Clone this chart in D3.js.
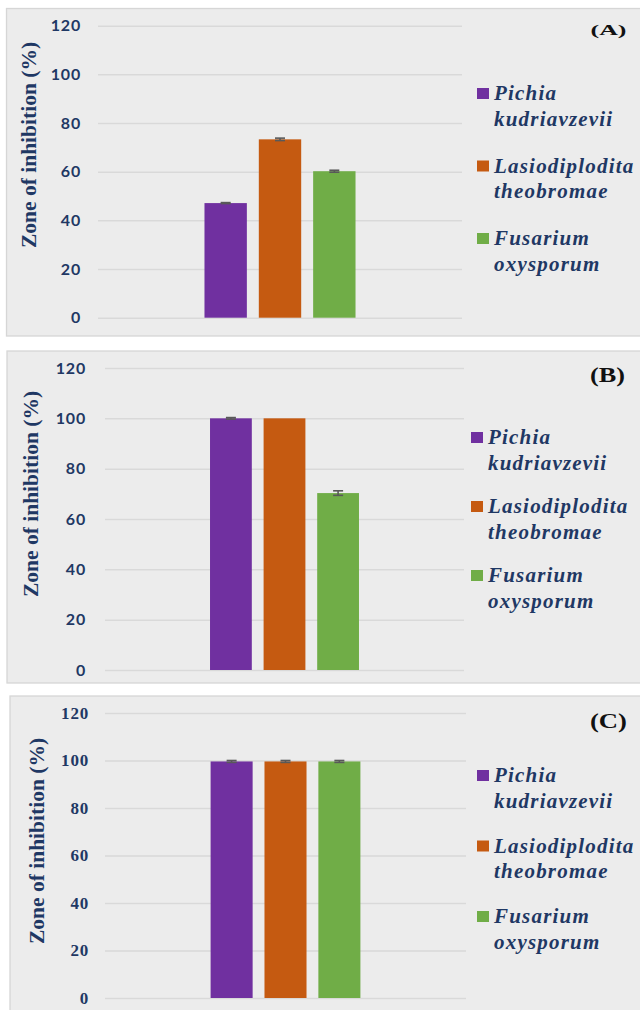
<!DOCTYPE html>
<html>
<head>
<meta charset="utf-8">
<script src="https://cdn.jsdelivr.net/npm/d3@7"></script>
<style>
  body { margin: 0; background: #fff; }
  svg { display: block; }
</style>
</head>
<body>
<svg id="chart" width="640" height="1010"></svg>
<script>
// data
const seriesNames = ['Pichia kudriavzevii', 'Lasiodiplodita theobromae', 'Fusarium oxysporum'];
const seriesColors = ['#7030a0', '#c55a11', '#70ad47'];
const panelLabels = ['(A)', '(B)', '(C)'];
const valuesA = [47.1, 73.3, 60.2];
const errorsA = [0.2, 0.5, 0.4];
const valuesB = [100, 100, 70.3];
const errorsB = [0.3, 0, 0.9];
const valuesC = [99.6, 99.6, 99.6];
const errorsC = [0.4, 0.4, 0.4];
const yTicks = [0, 20, 40, 60, 80, 100, 120];
const yTitle = 'Zone of inhibition (%)';

const navy = '#1f3864';
const sans = 'Lato, "Liberation Sans", sans-serif';
const serif = '"Liberation Serif", "Times New Roman", serif';

// layout of the three stacked panels
const panels = [
  {
    label: panelLabels[0], values: valuesA, errors: errorsA,
    box: { x: 6.5, y: 8.5, w: 650, h: 327.5 },
    plot: { x0: 98, x1: 462, y0: 317.7, y1: 25.7 },
    tickEnd: 81, tickFont: sans, tickSize: 16,
    titleX: 30.6, titleY: 145,
    legendX: 477, legendY: 100, legendStep: 72.5,
    labelX: 590.5, labelY: 35.3, labelSize: 14, labelW: 36,
  },
  {
    label: panelLabels[1], values: valuesB, errors: errorsB,
    box: { x: 7, y: 351, w: 650, h: 332 },
    plot: { x0: 105, x1: 464, y0: 670, y1: 368 },
    tickEnd: 86, tickFont: sans, tickSize: 16,
    titleX: 32.6, titleY: 494,
    legendX: 471, legendY: 444, legendStep: 69,
    labelX: 590, labelY: 381.6, labelSize: 20, labelW: 35,
  },
  {
    label: panelLabels[2], values: valuesC, errors: errorsC,
    box: { x: 10, y: 696, w: 650, h: 340 },
    plot: { x0: 105, x1: 466, y0: 998, y1: 713 },
    tickEnd: 89, tickFont: serif, tickSize: 17,
    titleX: 38.5, titleY: 841,
    legendX: 477, legendY: 782, legendStep: 70.5,
    labelX: 590, labelY: 728, labelSize: 21.5, labelW: 37,
  },
];

const svg = d3.select('#chart');

panels.forEach(p => {
  const g = svg.append('g');

  g.append('rect')
    .attr('x', p.box.x)
    .attr('y', p.box.y)
    .attr('width', p.box.w)
    .attr('height', p.box.h)
    .attr('fill', '#ececec')
    .attr('stroke', '#d6d6d6')
    .attr('stroke-width', 1.3);

  const y = d3.scaleLinear().domain([0, 120]).range([p.plot.y0, p.plot.y1]);
  const xGroup = d3.scaleBand().domain(['all']).range([p.plot.x0, p.plot.x1]).paddingOuter(0.705);
  const xSeries = d3.scaleBand().domain(d3.range(seriesNames.length))
    .range([0, xGroup.bandwidth()]).paddingInner(0.22);

  // gridlines + tick labels via axis
  const axis = g.append('g')
    .attr('transform', `translate(${p.plot.x0},0)`)
    .call(d3.axisLeft(y).tickValues(yTicks).tickSize(-(p.plot.x1 - p.plot.x0)).tickPadding(p.plot.x0 - p.tickEnd));
  axis.select('.domain').remove();
  axis.selectAll('.tick line')
    .attr('stroke', '#d9d9d9')
    .attr('stroke-width', 1.5);
  axis.selectAll('.tick text')
    .attr('fill', navy)
    .attr('font-family', p.tickFont)
    .attr('font-weight', 'bold')
    .attr('font-size', p.tickSize)
    .attr('letter-spacing', 0.8);

  // bars
  const x0 = xGroup('all');
  g.selectAll('rect.bar')
    .data(p.values)
    .join('rect')
    .attr('class', 'bar')
    .attr('x', (d, i) => x0 + xSeries(i))
    .attr('width', xSeries.bandwidth())
    .attr('y', d => y(d))
    .attr('height', d => y(0) - y(d))
    .attr('fill', (d, i) => seriesColors[i]);

  // error bars
  const err = g.append('g')
    .attr('stroke', '#595959')
    .attr('stroke-width', 1.6);
  p.values.forEach((v, i) => {
    const e = p.errors[i];
    if (!e) return;
    const cx = x0 + xSeries(i) + xSeries.bandwidth() / 2;
    err.append('line').attr('x1', cx).attr('x2', cx).attr('y1', y(v - e)).attr('y2', y(v + e));
    [v - e, v + e].forEach(t => {
      err.append('line').attr('x1', cx - 5).attr('x2', cx + 5).attr('y1', y(t)).attr('y2', y(t));
    });
  });

  // y axis title
  g.append('text')
    .attr('transform', `translate(${p.titleX},${p.titleY}) rotate(-90)`)
    .attr('text-anchor', 'middle')
    .attr('dy', '0.24em')
    .attr('fill', navy)
    .attr('font-family', serif)
    .attr('font-weight', 'bold')
    .attr('font-size', 21.5)
    .text(yTitle);

  // legend
  seriesNames.forEach((name, i) => {
    const by = p.legendY + i * p.legendStep;
    g.append('rect')
      .attr('x', p.legendX)
      .attr('y', by - 12)
      .attr('width', 12)
      .attr('height', 11)
      .attr('fill', seriesColors[i]);
    const words = name.split(' ');
    const t = g.append('text')
      .attr('fill', navy)
      .attr('font-family', serif)
      .attr('font-weight', 'bold')
      .attr('font-style', 'italic')
      .attr('font-size', 21)
      .attr('letter-spacing', 1.2);
    words.forEach((w, k) => {
      t.append('tspan')
        .attr('x', p.legendX + 17)
        .attr('y', by + k * 25.5)
        .text(w);
    });
  });

  // panel letter
  g.append('text')
    .attr('x', p.labelX)
    .attr('y', p.labelY)
    .attr('fill', '#111')
    .attr('font-family', serif)
    .attr('font-weight', 'bold')
    .attr('font-size', p.labelSize)
    .attr('textLength', p.labelW)
    .attr('lengthAdjust', 'spacingAndGlyphs')
    .text(p.label);
});
</script>
</body>
</html>
